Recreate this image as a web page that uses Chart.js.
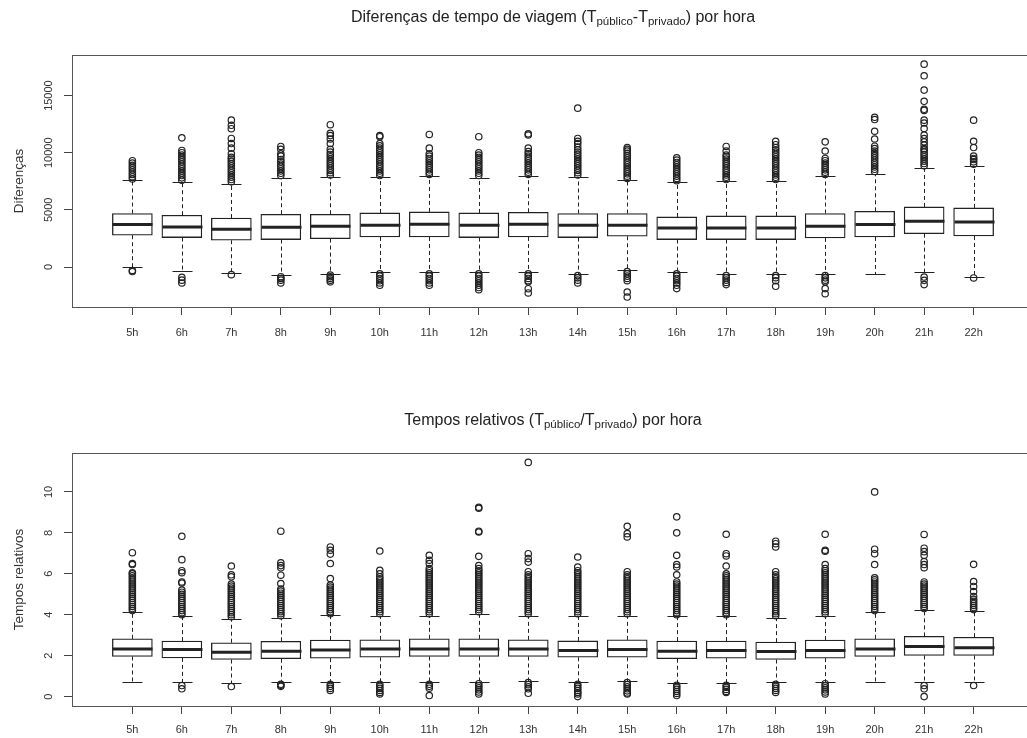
<!DOCTYPE html>
<html>
<head>
<meta charset="utf-8">
<script src="https://cdn.jsdelivr.net/npm/chart.js@4.4.0/dist/chart.umd.min.js"></script>
<style>
  html, body { margin: 0; padding: 0; background: #fff; overflow: hidden; }
  #wrap { position: relative; width: 1027px; height: 738px; overflow: hidden; }
  canvas { position: absolute; left: 0; }
</style>
</head>
<body>
<div id="wrap">
  <canvas id="diffChart" width="1045" height="370" style="top:0"></canvas>
  <canvas id="relChart" width="1045" height="368" style="top:370px"></canvas>
</div>
<script>
const hours = ['5h','6h','7h','8h','9h','10h','11h','12h','13h','14h','15h','16h','17h','18h','19h','20h','21h','22h'];

// diferencas (segundos)
const diffTicks = [0, 5000, 10000, 15000];
const diffQ1  = [2780, 2575, 2340, 2400, 2485, 2630, 2630, 2575, 2630, 2575, 2690, 2400, 2400, 2400, 2545, 2630, 2920, 2715];
const diffMed = [3715, 3505, 3300, 3475, 3565, 3650, 3740, 3650, 3740, 3650, 3650, 3415, 3415, 3415, 3565, 3710, 4000, 3940];
const diffQ3  = [4680, 4530, 4290, 4615, 4615, 4730, 4820, 4730, 4790, 4680, 4680, 4380, 4470, 4470, 4680, 4875, 5255, 5170];
const diffLo  = [0, -350, -495, -670, -580, -440, -440, -440, -440, -580, -230, -440, -580, -580, -580, -580, -440, -875];
const diffHi  = [7570, 7445, 7305, 7830, 7890, 7860, 7950, 7830, 7950, 7890, 7600, 7395, 7510, 7510, 7950, 8180, 8705, 8855];
const diffOut = [
  [7700,7900,8100,8300,8500,8700,8900,9100,9300, -300,-400],
  [7600,7800,8000,8200,8400,8600,8800,9000,9200,9400,9600,9800,10000,10200,11300, -900,-1150,-1400],
  [7450,7650,7850,8050,8250,8450,8650,8850,9050,9250,9450,9600,9900,10400,10800,11250,12100,12400,12850, -670],
  [8000,8200,8400,8600,8800,9000,9200,9400,9700,9900,10300,10550, -850,-1000,-1150,-1400],
  [8050,8250,8450,8650,8850,9050,9250,9450,9650,9850,10050,10300,10800,11200,11500,11700,12450, -700,-850,-1000,-1150,-1300],
  [8000,8200,8400,8600,8800,9000,9200,9400,9600,9800,10000,10200,10400,10600,10800,11400,11500, -600,-800,-1000,-1200,-1400,-1600],
  [8100,8300,8500,8700,8900,9100,9300,9500,9700,9900,10400,11600, -600,-800,-1000,-1200,-1400,-1600],
  [8000,8200,8400,8600,8800,9000,9200,9400,9600,9800,10000,11400, -600,-800,-1000,-1200,-1400,-1600,-1800,-1980],
  [8100,8300,8500,8700,8900,9100,9300,9500,9700,9900,10100,10400,11550,11650, -600,-800,-1000,-1200,-1300,-1900,-2270],
  [8050,8250,8450,8650,8850,9050,9250,9450,9650,9850,10050,10250,10500,10800,11000,11250,13900, -750,-950,-1150,-1400],
  [7750,7950,8150,8350,8550,8750,8950,9150,9350,9550,9750,9950,10150,10300,10450, -400,-600,-800,-1000,-1200,-2190,-2630],
  [7550,7750,7950,8150,8350,8550,8750,8950,9150,9350,9550, -600,-800,-1000,-1200,-1400,-1600,-1890],
  [7650,7850,8050,8250,8450,8650,8850,9050,9250,9450,9650,9800,10150,10550, -750,-950,-1150,-1350,-1540],
  [7650,7850,8050,8250,8450,8650,8850,9050,9250,9450,9650,9850,10050,10250,10450,10700,11000, -750,-930,-1200,-1690],
  [8100,8300,8500,8700,8900,9100,9300,9500,10150,10950, -750,-950,-1150,-1300,-1890,-2340],
  [8350,8550,8750,8950,9150,9350,9550,9750,9950,10150,10370,10570,11200,11880,12900,13100],
  [8850,9050,9250,9450,9650,9850,10050,10250,10370,10660,10950,11245,11540,12120,12600,12850,13700,13800,14500,15480,16730,17750, -880,-1170,-1540],
  [9000,9200,9400,9500,9700,10450,11000,12850, -960]
];

// tempos relativos
const relTicks = [0, 2, 4, 6, 8, 10];
const relQ1  = [1.96, 1.89, 1.81, 1.85, 1.88, 1.92, 1.96, 1.96, 1.96, 1.92, 1.92, 1.85, 1.88, 1.81, 1.88, 1.96, 2.01, 2.01];
const relMed = [2.33, 2.30, 2.17, 2.22, 2.28, 2.33, 2.33, 2.33, 2.33, 2.25, 2.30, 2.22, 2.25, 2.20, 2.25, 2.33, 2.45, 2.38];
const relQ3  = [2.82, 2.71, 2.63, 2.70, 2.76, 2.77, 2.82, 2.82, 2.77, 2.72, 2.77, 2.71, 2.71, 2.66, 2.76, 2.82, 2.94, 2.90];
const relLo  = [0.73, 0.73, 0.65, 0.73, 0.73, 0.70, 0.70, 0.73, 0.78, 0.70, 0.78, 0.65, 0.65, 0.70, 0.73, 0.73, 0.73, 0.73];
const relHi  = [4.11, 3.92, 3.77, 3.85, 3.97, 3.96, 3.96, 4.05, 3.96, 3.96, 3.96, 3.92, 3.92, 3.85, 3.96, 4.13, 4.24, 4.17];
const relOut = [
  [4.2,4.3,4.4,4.5,4.6,4.7,4.8,4.9,5.0,5.1,5.2,5.3,5.4,5.5,5.6,5.7,5.8,5.9,6.0,6.05,6.45,6.5,7.03],
  [4.0,4.1,4.2,4.3,4.4,4.5,4.6,4.7,4.8,4.9,5.0,5.1,5.2,5.55,5.6,6.05,6.15,6.69,7.83, 0.54,0.38],
  [3.9,4.0,4.1,4.2,4.3,4.4,4.5,4.6,4.7,4.8,4.9,5.0,5.1,5.2,5.3,5.4,5.5,5.85,5.95,6.38, 0.49],
  [3.95,4.05,4.15,4.25,4.35,4.45,4.55,4.65,4.75,4.85,4.95,5.05,5.15,5.25,5.52,5.93,6.29,6.4,6.53,8.08, 0.6,0.55,0.5],
  [4.05,4.15,4.25,4.35,4.45,4.55,4.65,4.75,4.85,4.95,5.05,5.15,5.25,5.35,5.45,5.77,6.5,6.96,7.15,7.31, 0.6,0.5,0.4,0.3],
  [4.05,4.15,4.25,4.35,4.45,4.55,4.65,4.75,4.85,4.95,5.05,5.15,5.25,5.35,5.45,5.55,5.65,5.75,5.85,6.0,6.17,7.11, 0.6,0.5,0.4,0.3,0.2,0.13],
  [4.05,4.15,4.25,4.35,4.45,4.55,4.65,4.75,4.85,4.95,5.05,5.15,5.25,5.35,5.45,5.55,5.65,5.75,5.85,5.95,6.05,6.15,6.25,6.5,6.66,6.9, 0.6,0.5,0.41,0.05],
  [4.15,4.25,4.35,4.45,4.55,4.65,4.75,4.85,4.95,5.05,5.15,5.25,5.35,5.45,5.55,5.65,5.75,5.85,5.95,6.05,6.15,6.25,6.4,6.85,8.04,8.08,9.2,9.25, 0.63,0.53,0.43,0.33,0.23,0.13],
  [4.05,4.15,4.25,4.35,4.45,4.55,4.65,4.75,4.85,4.95,5.05,5.15,5.25,5.35,5.45,5.55,5.65,5.75,5.85,5.95,6.1,6.57,6.74,6.98,11.44, 0.68,0.58,0.48,0.38,0.16],
  [4.05,4.15,4.25,4.35,4.45,4.55,4.65,4.75,4.85,4.95,5.05,5.15,5.25,5.35,5.45,5.55,5.65,5.75,5.85,5.95,6.05,6.15,6.33,6.82, 0.6,0.5,0.4,0.3,0.2,0.13,0.0],
  [4.05,4.15,4.25,4.35,4.45,4.55,4.65,4.75,4.85,4.95,5.05,5.15,5.25,5.35,5.45,5.55,5.65,5.75,5.85,5.95,6.1,7.8,7.96,8.32, 0.68,0.58,0.48,0.38,0.28,0.18,0.13],
  [4.0,4.1,4.2,4.3,4.4,4.5,4.6,4.7,4.8,4.9,5.0,5.1,5.2,5.3,5.4,5.5,5.6,5.95,6.33,6.45,6.9,8.0,8.78, 0.55,0.45,0.35,0.25,0.15,0.05],
  [4.0,4.1,4.2,4.3,4.4,4.5,4.6,4.7,4.8,4.9,5.0,5.1,5.2,5.3,5.4,5.5,5.6,5.7,5.8,5.9,6.0,6.38,6.87,6.98,7.93, 0.55,0.45,0.35,0.25,0.2],
  [3.95,4.05,4.15,4.25,4.35,4.45,4.55,4.65,4.75,4.85,4.95,5.05,5.15,5.25,5.35,5.45,5.55,5.65,5.75,5.85,5.95,6.1,7.31,7.47,7.59, 0.6,0.5,0.4,0.3,0.2],
  [4.05,4.15,4.25,4.35,4.45,4.55,4.65,4.75,4.85,4.95,5.05,5.15,5.25,5.35,5.45,5.55,5.65,5.75,5.85,5.95,6.05,6.15,6.25,6.45,7.1,7.15,7.93, 0.63,0.53,0.43,0.33,0.23,0.13],
  [4.2,4.3,4.4,4.5,4.6,4.7,4.8,4.9,5.0,5.1,5.2,5.3,5.4,5.5,5.6,5.7,5.8,6.45,6.98,7.2,10.0],
  [4.3,4.4,4.5,4.6,4.7,4.8,4.9,5.0,5.1,5.2,5.3,5.4,5.5,5.6,6.3,6.45,6.6,6.9,7.08,7.25,7.92, 0.54,0.38,0.0],
  [4.25,4.35,4.45,4.55,4.65,4.75,4.89,5.13,5.38,5.62,6.46, 0.54]
];

const INK = '#222';
Chart.defaults.font.family = '"Liberation Sans", Arial, sans-serif';
Chart.defaults.color = '#333';

// whiskers, staples, medians and the frame, all through the chart scales
function boxParts(q1, med, q3, lo, hi) {
  return {
    id: 'boxParts',
    afterDatasetsDraw(chart) {
      const { ctx, scales: { x, y } } = chart;
      const seg = (x1, y1, x2, y2) => { ctx.beginPath(); ctx.moveTo(x1, y1); ctx.lineTo(x2, y2); ctx.stroke(); };
      ctx.save();
      ctx.strokeStyle = INK;
      med.forEach((m, i) => {
        const px = Math.round(x.getPixelForValue(i + 1)) + 0.5;
        const yq1 = y.getPixelForValue(q1[i]), yq3 = y.getPixelForValue(q3[i]);
        const ylo = Math.round(y.getPixelForValue(lo[i])) + 0.5, yhi = Math.round(y.getPixelForValue(hi[i])) + 0.5;
        ctx.lineWidth = 1;
        ctx.setLineDash([4, 3]);
        seg(px, yq3, px, yhi);
        seg(px, yq1, px, ylo);
        ctx.setLineDash([]);
        seg(px - 10, yhi, px + 10, yhi);
        seg(px - 10, ylo, px + 10, ylo);
        ctx.lineWidth = 3;
        const ym = y.getPixelForValue(m);
        seg(px - 20, ym, px + 20, ym);
      });
      ctx.restore();
    },
    afterDraw(chart) {
      const { ctx, chartArea: a } = chart;
      ctx.save();
      ctx.strokeStyle = '#555';
      ctx.lineWidth = 1;
      ctx.strokeRect(Math.round(a.left) + 0.5, Math.round(a.top) + 0.5, Math.round(a.right - a.left), Math.round(a.bottom - a.top));
      ctx.restore();
    }
  };
}

// title with subscripts
function subTitle(parts, baseline) {
  return {
    id: 'subTitle',
    afterDraw(chart) {
      const { ctx, chartArea: a } = chart;
      const big = '16px "Liberation Sans", Arial, sans-serif';
      const small = '11.5px "Liberation Sans", Arial, sans-serif';
      ctx.save();
      let total = 0;
      parts.forEach(p => { ctx.font = p.sub ? small : big; total += ctx.measureText(p.t).width; });
      let x = (a.left + a.right) / 2 - total / 2;
      ctx.fillStyle = '#222';
      ctx.textBaseline = 'alphabetic';
      parts.forEach(p => {
        ctx.font = p.sub ? small : big;
        ctx.fillText(p.t, x, baseline + (p.sub ? 3 : 0));
        x += ctx.measureText(p.t).width;
      });
      ctx.restore();
    }
  };
}

function boxChart(id, s) {
  const boxes = hours.map((h, i) => ({ x: i + 1, y: [s.q1[i], s.q3[i]] }));
  const pts = [];
  s.out.forEach((vals, i) => vals.forEach(v => pts.push({ x: i + 1, y: v })));
  return new Chart(document.getElementById(id), {
    type: 'bar',
    data: {
      datasets: [
        { type: 'bar', data: boxes, backgroundColor: '#fff', borderColor: INK, borderWidth: 1.3, borderSkipped: false, barThickness: 40 },
        { type: 'scatter', data: pts, pointStyle: 'circle', pointRadius: 3.2, pointBorderWidth: 1.2,
          borderColor: INK, backgroundColor: 'rgba(0,0,0,0)' }
      ]
    },
    options: {
      responsive: false,
      animation: false,
      events: [],
      layout: { padding: { top: s.padTop, right: 11, left: 0, bottom: 0 } },
      plugins: { legend: { display: false }, tooltip: { enabled: false } },
      scales: {
        x: {
          type: 'linear', min: -0.22, max: 19.22, offset: false,
          afterBuildTicks: sc => { sc.ticks = hours.map((h, i) => ({ value: i + 1 })); },
          afterFit: sc => { sc.height = s.xHeight; },
          ticks: { callback: (v, i) => hours[i], padding: s.xPad, maxRotation: 0, autoSkip: false, font: { size: 11 }, color: '#333' },
          grid: { offset: false, drawOnChartArea: false, tickLength: 8, tickColor: '#444' },
          border: { display: false }
        },
        y: {
          min: s.min, max: s.max,
          afterBuildTicks: sc => { sc.ticks = s.ticks.map(v => ({ value: v })); },
          afterFit: sc => { sc.width = 72; },
          ticks: { callback: v => String(v), minRotation: 90, maxRotation: 90, crossAlign: 'center', padding: s.yPad, font: { size: 11 }, color: '#333' },
          grid: { drawOnChartArea: false, tickLength: 8, tickColor: '#444' },
          border: { display: false },
          title: { display: true, text: s.yTitle, padding: { top: 11, bottom: 0 }, font: { size: 13.5 }, color: '#333' }
        }
      }
    },
    plugins: [boxParts(s.q1, s.med, s.q3, s.lo, s.hi), subTitle(s.title, s.titleY)]
  });
}

boxChart('diffChart', {
  q1: diffQ1, med: diffMed, q3: diffQ3, lo: diffLo, hi: diffHi, out: diffOut,
  ticks: diffTicks, min: -3500, max: 18550,
  padTop: 55, xHeight: 63, xPad: 11, yPad: 0,
  yTitle: 'Diferenças',
  title: [{ t: 'Diferenças de tempo de viagem (T' }, { t: 'público', sub: true }, { t: '-T' }, { t: 'privado', sub: true }, { t: ') por hora' }],
  titleY: 22
});

boxChart('relChart', {
  q1: relQ1, med: relMed, q3: relQ3, lo: relLo, hi: relHi, out: relOut,
  ticks: relTicks, min: -0.46, max: 11.9,
  padTop: 83, xHeight: 32, xPad: 9, yPad: 9,
  yTitle: 'Tempos relativos',
  title: [{ t: 'Tempos relativos (T' }, { t: 'público', sub: true }, { t: '/T' }, { t: 'privado', sub: true }, { t: ') por hora' }],
  titleY: 55
});
</script>
</body>
</html>
